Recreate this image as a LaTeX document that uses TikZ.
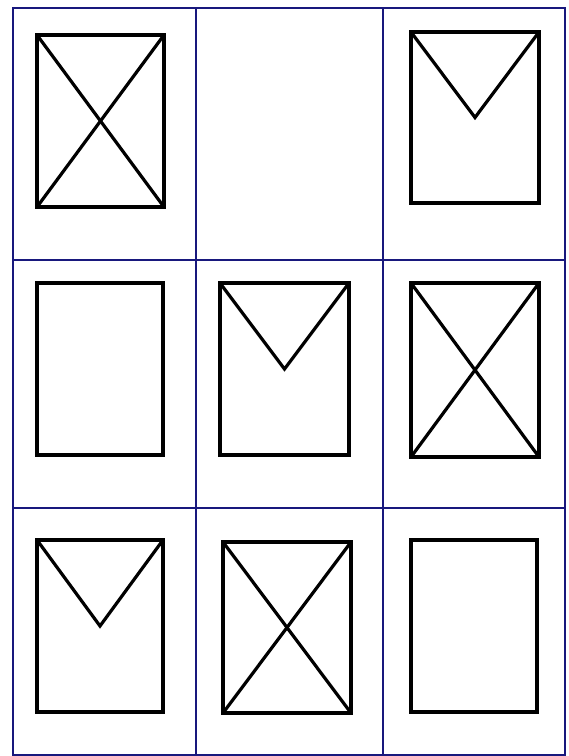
\documentclass[tikz,border=0pt]{standalone}
\definecolor{gridblue}{RGB}{24,24,125}
\begin{document}
\begin{tikzpicture}[x=1pt,y=-1pt,
  gridline/.style={draw=gridblue, line width=2.8pt},
  frame/.style={draw=black, line width=4.4pt, rectangle, inner sep=0pt, outer sep=0pt, anchor=north west},
  stroke/.style={draw=black, line width=3.2pt, line join=miter}]
\useasboundingbox (0,0) rectangle (569,756);
\fill[white] (0,0) rectangle (569,756);
% grid
\coordinate (gtl) at (13,8);
\coordinate (gbr) at (565,755);
\draw[gridline] (gtl) rectangle (gbr);
\coordinate (v1t) at (196,8);   \coordinate (v1b) at (196,755);
\coordinate (v2t) at (383,8);   \coordinate (v2b) at (383,755);
\coordinate (h1l) at (13,260);  \coordinate (h1r) at (565,260);
\coordinate (h2l) at (13,508);  \coordinate (h2r) at (565,508);
\draw[gridline] (v1t) -- (v1b);
\draw[gridline] (v2t) -- (v2b);
\draw[gridline] (h1l) -- (h1r);
\draw[gridline] (h2l) -- (h2r);
% frames
\node[frame, minimum width=127pt, minimum height=172pt] (r11) at (37,35) {};
\node[frame, minimum width=128pt, minimum height=171pt] (r13) at (411,32) {};
\node[frame, minimum width=126pt, minimum height=172pt] (r21) at (37,283) {};
\node[frame, minimum width=129pt, minimum height=172pt] (r22) at (220,283) {};
\node[frame, minimum width=128pt, minimum height=174pt] (r23) at (411,283) {};
\node[frame, minimum width=126pt, minimum height=172pt] (r31) at (37,540) {};
\node[frame, minimum width=128pt, minimum height=171pt] (r32) at (223,542) {};
\node[frame, minimum width=126pt, minimum height=172pt] (r33) at (411,540) {};
% crosses
\foreach \r in {r11,r23,r32}{
  \draw[stroke] (\r.north west) -- (\r.south east);
  \draw[stroke] (\r.north east) -- (\r.south west);
}
% envelopes
\foreach \r in {r13,r22,r31}{
  \draw[stroke] (\r.north west) -- (\r.center) -- (\r.north east);
}
\end{tikzpicture}
\end{document}
